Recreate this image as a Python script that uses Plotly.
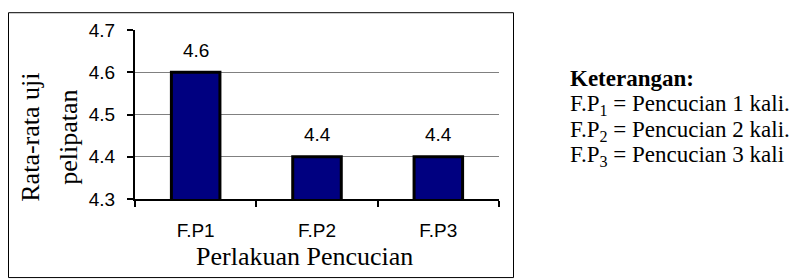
import plotly.graph_objects as go

categories = ["F.P1", "F.P2", "F.P3"]
values = [4.6, 4.4, 4.4]
value_labels = ["4.6", "4.4", "4.4"]
y_ticks = [4.3, 4.4, 4.5, 4.6, 4.7]
y_tick_labels = ["4.3", "4.4", "4.5", "4.6", "4.7"]
legend_title = "Keterangan:"
legend_lines = [
    "F.P<sub>1</sub> = Pencucian 1 kali.",
    "F.P<sub>2</sub> = Pencucian 2 kali.",
    "F.P<sub>3</sub> = Pencucian 3 kali",
]

OFF = 8  # page body margin
W, H = 801 - OFF, 280 - OFF
L, T = 135 - OFF, 28 - OFF
PW, PH = 499 - 135, 199 - 28
R, B = W - L - PW, H - T - PH


def px(x):  # screen x -> paper
    return (x - OFF - L) / PW


def py(y):  # screen y -> paper
    return 1 - (y - OFF - T) / PH


SERIF = "Liberation Serif, Times New Roman, serif"
SANS = "Liberation Sans, Arial, sans-serif"

fig = go.Figure()
fig.add_trace(go.Bar(
    x=categories, y=values,
    marker=dict(color="#000080", line=dict(color="black", width=3)),
    width=0.4,
    showlegend=False,
    hoverinfo="skip",
))

for c, v, t in zip(categories, values, value_labels):
    fig.add_annotation(x=c, y=v, text=t, showarrow=False, yanchor="middle",
                       yshift=22, font=dict(family=SANS, size=19, color="black"))

fig.update_layout(
    width=W, height=H,
    margin=dict(l=L, r=R, t=T, b=B),
    paper_bgcolor="white", plot_bgcolor="white",
    xaxis=dict(
        type="category",
        showline=True, linecolor="black", linewidth=2,
        ticks="outside", ticklen=6, tickwidth=2, tickcolor="black",
        tickson="boundaries",
        ticklabelstandoff=13,
        showgrid=False,
        tickfont=dict(family=SANS, size=19, color="black"),
    ),
    yaxis=dict(
        range=[4.3, 4.7],
        tickvals=y_ticks, ticktext=y_tick_labels,
        showline=True, linecolor="black", linewidth=2,
        ticks="outside", ticklen=6, tickwidth=2, tickcolor="black",
        ticklabelstandoff=8,
        showgrid=True, gridcolor="#808080", gridwidth=1,
        zeroline=False,
        tickfont=dict(family=SANS, size=19, color="black"),
    ),
)

# x-axis title
fig.add_annotation(xref="paper", yref="paper", x=px(304), y=py(257), text="Perlakuan Pencucian",
                   showarrow=False, xanchor="center", yanchor="middle",
                   font=dict(family=SERIF, size=26, color="black"))

# y-axis title as two lines
fig.add_annotation(xref="paper", yref="paper", x=px(31), y=py(137), text="Rata-rata uji",
                   showarrow=False, textangle=-90, xanchor="center", yanchor="middle",
                   font=dict(family=SERIF, size=26, color="black"))
fig.add_annotation(xref="paper", yref="paper", x=px(69), y=py(137), text="pelipatan",
                   showarrow=False, textangle=-90, xanchor="center", yanchor="middle",
                   font=dict(family=SERIF, size=26, color="black"))

# outer frame
fig.add_shape(type="rect", xref="paper", yref="paper",
              x0=px(8.5), x1=px(513.5), y0=py(10.5), y1=py(278.5),
              line=dict(color="black", width=1), fillcolor="rgba(0,0,0,0)", layer="above")

# legend text block (one annotation, tight line spacing)
big = "<span style='font-size:23px'>{}</span>"
legend_text = "<br>".join([big.format("<b>" + legend_title + "</b>")] + [big.format(s) for s in legend_lines])
fig.add_annotation(xref="paper", yref="paper", x=px(568), y=py(117), text=legend_text,
                   showarrow=False, xanchor="left", yanchor="middle", align="left",
                   font=dict(family=SERIF, size=19.5, color="black"))

fig.write_html("out.html")
